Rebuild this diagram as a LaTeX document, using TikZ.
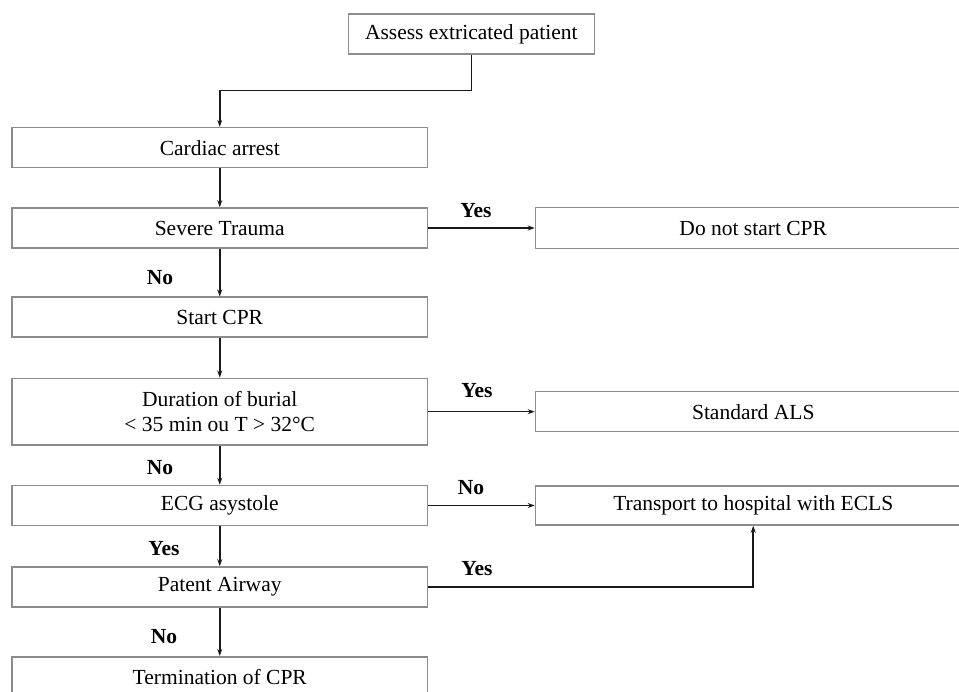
\documentclass[tikz,border=0pt]{standalone}
\usepackage{fontspec}
\setmainfont{Liberation Serif}
\usetikzlibrary{arrows.meta}
\begin{document}
\begin{tikzpicture}[x=1pt,y=-1pt,
  box/.style={draw=black!45, line width=1.6pt, fill=white, inner sep=0pt, align=center,
    font=\fontsize{21.5}{24.5}\selectfont},
  lbox/.style={box, minimum width=415.5pt, minimum height=40pt},
  rbox/.style={box, minimum width=435.5pt, minimum height=41pt},
  arr/.style={draw=black!90, line width=1.6pt, -{Stealth[length=7pt,width=5pt]}},
  plain/.style={draw=black!90, line width=1.6pt},
  lab/.style={font=\fontsize{21.5}{24}\selectfont\bfseries, inner sep=0pt}]
\useasboundingbox (0,0) rectangle (959,692);
\fill[white] (0,0) rectangle (959,692);

\node[box, minimum width=246pt, minimum height=40pt] (assess) at (471.3,34) {Assess extricated patient};
\node[lbox] (cardiac) at (219.75,147.7) {Cardiac arrest};
\node[lbox] (severe) at (219.75,228) {Severe Trauma};
\node[rbox] (donot) at (753.25,228) {Do not start CPR};
\node[lbox] (start) at (219.75,317.3) {Start CPR};
\node[lbox, minimum height=66.7pt] (duration) at (219.75,411.7) {\raisebox{-2pt}{Duration of burial}\\\raisebox{-2pt}{\textless\ 35 min ou T \textgreater\ 32°C}};
\node[rbox, minimum height=40pt] (als) at (753.25,411.7) {Standard ALS};
\node[lbox] (ecg) at (219.75,505.5) {ECG asystole};
\node[rbox, minimum height=39pt] (transport) at (753.25,505.5) {Transport to hospital with ECLS};
\node[lbox] (patent) at (219.75,587) {Patent Airway};
\node[lbox] (term) at (219.75,676.7) {Termination of CPR};

\coordinate (bend) at (471.3,90.7);
\draw[plain] (assess.south) -- (bend);
\draw[arr] (bend) -| (cardiac.north);
\draw[arr] (cardiac) -- (severe);
\draw[arr] (severe.east) -- (donot.west);
\draw[arr] (severe) -- (start);
\draw[arr] (start) -- (duration);
\draw[arr] (duration.east) -- (als.west);
\draw[arr] (duration) -- (ecg);
\draw[arr] (ecg.east) -- (transport.west);
\draw[arr] (ecg) -- (patent);
\draw[arr] (patent.east) -| (transport.south);
\draw[arr] (patent) -- (term);

\node[lab] (l1) at (476,210.7) {Yes};
\node[lab] (l2) at (160,278) {No};
\node[lab] (l3) at (477,390.7) {Yes};
\node[lab] (l4) at (160,468) {No};
\node[lab] (l5) at (471,488) {No};
\node[lab] (l6) at (164,549) {Yes};
\node[lab] (l7) at (477,569) {Yes};
\node[lab] (l8) at (164,636.7) {No};
\end{tikzpicture}
\end{document}
